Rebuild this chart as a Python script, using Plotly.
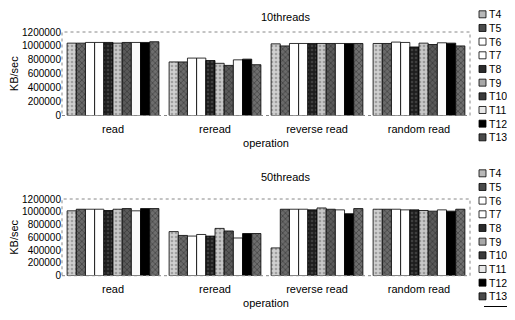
import plotly.graph_objects as go

operations = ["read", "reread", "reverse read", "random read"]
series_names = ["T4", "T5", "T6", "T7", "T8", "T9", "T10", "T11", "T12", "T13"]

# values per series, in order of operations
threads10 = {
    "T4":  [1040000, 770000, 1030000, 1035000],
    "T5":  [1040000, 770000, 1000000, 1035000],
    "T6":  [1050000, 825000, 1035000, 1055000],
    "T7":  [1050000, 825000, 1035000, 1050000],
    "T8":  [1050000, 790000, 1035000, 985000],
    "T9":  [1040000, 750000, 1035000, 1040000],
    "T10": [1050000, 720000, 1035000, 1020000],
    "T11": [1050000, 800000, 1035000, 1045000],
    "T12": [1050000, 810000, 1035000, 1040000],
    "T13": [1060000, 730000, 1035000, 1000000],
}
threads50 = {
    "T4":  [1015000, 690000, 435000, 1040000],
    "T5":  [1040000, 630000, 1040000, 1040000],
    "T6":  [1040000, 620000, 1040000, 1040000],
    "T7":  [1040000, 645000, 1040000, 1030000],
    "T8":  [1020000, 620000, 1030000, 1030000],
    "T9":  [1040000, 740000, 1060000, 1020000],
    "T10": [1050000, 700000, 1040000, 1010000],
    "T11": [1015000, 590000, 1030000, 1030000],
    "T12": [1050000, 660000, 970000, 1010000],
    "T13": [1050000, 660000, 1050000, 1040000],
}
y_ticks = [0, 200000, 400000, 600000, 800000, 1000000, 1200000]

styles = {
    "T4":  dict(color="#d0d0d0", shape=".", fg="#707070", swatch="#b8b8b8"),
    "T5":  dict(color="#6a6a6a", shape="x", fg="#1a1a1a", swatch="#4a4a4a"),
    "T6":  dict(color="#ffffff", shape="", fg="#000000", swatch="#ffffff"),
    "T7":  dict(color="#ffffff", shape="", fg="#000000", swatch="#ffffff"),
    "T8":  dict(color="#1e1e1e", shape=".", fg="#606060", swatch="#2a2a2a"),
    "T9":  dict(color="#c8c8c8", shape=".", fg="#6a6a6a", swatch="#a8a8a8"),
    "T10": dict(color="#5a5a5a", shape="x", fg="#1a1a1a", swatch="#3a3a3a"),
    "T11": dict(color="#fafafa", shape="", fg="#000000", swatch="#e8e8e8"),
    "T12": dict(color="#000000", shape="", fg="#000000", swatch="#000000"),
    "T13": dict(color="#6e6e6e", shape="x", fg="#1a1a1a", swatch="#4a4a4a"),
}

fig = go.Figure()
for data, xa, ya in [(threads10, "x", "y"), (threads50, "x2", "y2")]:
    for name in series_names:
        st = styles[name]
        fig.add_trace(go.Bar(
            x=operations, y=data[name], name=name, xaxis=xa, yaxis=ya, showlegend=False,
            marker=dict(color=st["color"], line=dict(color="#000000", width=0.8),
                        pattern=dict(shape=st["shape"], fgcolor=st["fg"], size=4, solidity=0.35)),
        ))

# page has an 8px body margin: figure is drawn at offset (8, 8); keep it inside the window
OFF = 8
W, H = 515 - 2 * OFF, 320 - 2 * OFF
def px(x):
    return (x - OFF) / W
def py(y):
    return 1 - (y - OFF) / H

font = dict(family="Liberation Sans, Arial, sans-serif", size=11, color="#000000")
tickfont = dict(family="Liberation Sans, Arial, sans-serif", size=10, color="#000000")
xdom = [px(62), px(470)]
axis_common = dict(showgrid=False, zeroline=False, showline=False, ticks="", automargin=False)

annotations = [
    dict(text="10threads", x=px(285), y=py(17), xref="paper", yref="paper", yanchor="middle",
         xanchor="center", showarrow=False, font=font),
    dict(text="50threads", x=px(285), y=py(177), xref="paper", yref="paper", yanchor="middle",
         xanchor="center", showarrow=False, font=font),
]
shapes = [
    dict(type="rect", xref="x domain", yref="y domain", x0=0, x1=1, y0=0, y1=1,
         line=dict(color="#888888", width=1, dash="dot")),
    dict(type="rect", xref="x2 domain", yref="y2 domain", x0=0, x1=1, y0=0, y1=1,
         line=dict(color="#888888", width=1, dash="dot")),
    dict(type="line", xref="paper", yref="paper", x0=px(484), x1=px(507), y0=py(306.5), y1=py(306.5),
         line=dict(color="#000000", width=1)),
]

# custom legends (one per panel)
for top in (14.3, 173.3):
    for i, name in enumerate(series_names):
        yc = top + i * 13.67
        shapes.append(dict(type="rect", xref="paper", yref="paper",
                           x0=px(479), x1=px(486), y0=py(yc + 3.5), y1=py(yc - 3.5),
                           fillcolor=styles[name]["swatch"], line=dict(color="#000000", width=0.8)))
        annotations.append(dict(text=name, x=px(486.5), y=py(yc), xref="paper", yref="paper",
                                xanchor="left", yanchor="middle", showarrow=False,
                                font=dict(family="Liberation Sans, Arial, sans-serif", size=10.5, color="#000000")))

fig.update_layout(
    width=W, height=H, margin=dict(l=0, r=0, t=0, b=0, autoexpand=False),
    paper_bgcolor="#ffffff", plot_bgcolor="#ffffff", showlegend=False,
    font=font, barmode="group", bargap=0.1, bargroupgap=0,
    xaxis=dict(domain=xdom, anchor="y", tickfont=font, ticklabelstandoff=5,
               title=dict(text="operation", standoff=5, font=font), **axis_common),
    yaxis=dict(domain=[py(115.5), py(32)], anchor="x", range=[0, 1200000], tickvals=y_ticks, tickfont=tickfont,
               ticktext=[str(v) for v in y_ticks], title=dict(text="KB/sec", standoff=6, font=font), **axis_common),
    xaxis2=dict(domain=xdom, anchor="y2", tickfont=font, ticklabelstandoff=5,
                title=dict(text="operation", standoff=5, font=font), **axis_common),
    yaxis2=dict(domain=[py(275.7), py(199)], anchor="x2", range=[0, 1200000], tickvals=y_ticks, tickfont=tickfont,
                ticktext=[str(v) for v in y_ticks], title=dict(text="KB/sec", standoff=6, font=font), **axis_common),
    annotations=annotations,
    shapes=shapes,
)

fig.write_html("out.html")
